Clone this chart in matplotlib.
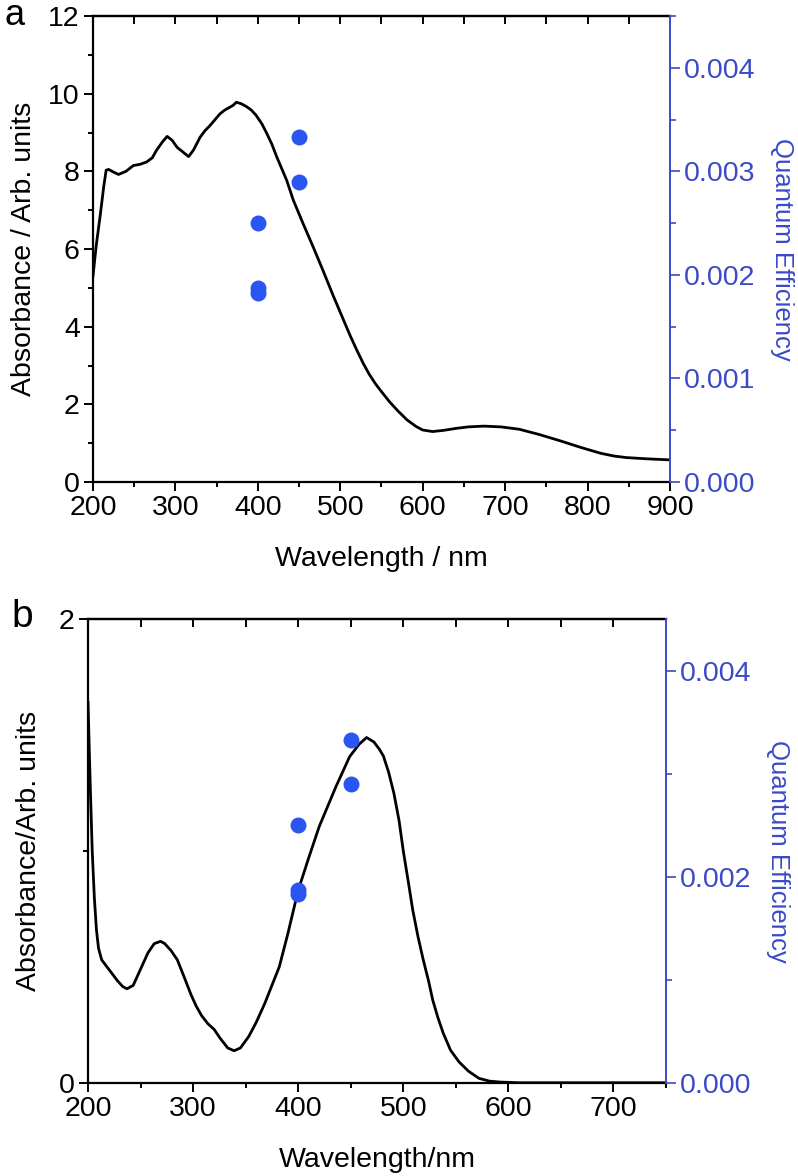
import numpy as np
import matplotlib
matplotlib.use("Agg")
import matplotlib.pyplot as plt
from matplotlib.ticker import MultipleLocator, FormatStrFormatter

plt.rcParams['font.family'] = ['Liberation Sans', 'DejaVu Sans']

# panel a: absorbance spectrum
wl_a = [200, 204, 209, 213, 216, 219, 225, 231, 240, 249, 257, 265, 272, 277, 284,
        290, 296, 302, 309, 316, 322, 330, 336, 342, 348, 354, 360, 366, 370, 374,
        380, 386, 392, 398, 405, 411, 417, 423, 429, 435, 443, 455, 467, 479, 491,
        505, 512, 520, 528, 535, 543, 551, 560, 570, 581, 592, 600, 612, 625, 640,
        655, 674, 695, 717, 742, 767, 792, 816, 832, 847, 870, 890, 900]
abs_a = [5.3, 6.1, 6.9, 7.6, 8.03, 8.05, 7.98, 7.92, 8.0, 8.15, 8.18, 8.24, 8.35, 8.54, 8.75,
         8.9, 8.8, 8.62, 8.5, 8.38, 8.55, 8.88, 9.05, 9.18, 9.33, 9.48, 9.58, 9.65, 9.7, 9.78,
         9.74, 9.67, 9.58, 9.44, 9.22, 8.97, 8.7, 8.37, 8.07, 7.77, 7.26, 6.65, 6.06, 5.45, 4.82,
         4.12, 3.77, 3.4, 3.05, 2.78, 2.52, 2.3, 2.06, 1.83, 1.6, 1.43, 1.34, 1.3, 1.33, 1.38,
         1.42, 1.44, 1.42, 1.36, 1.22, 1.06, 0.89, 0.74, 0.67, 0.63, 0.6, 0.58, 0.57]

# panel b: absorbance spectrum
wl_b = [200, 202, 204, 206, 208, 210, 213, 218, 223, 228, 233, 237, 243, 250, 257, 263,
        269, 273, 279, 285, 292, 298, 303, 308, 314, 320, 326, 333, 339, 345, 353,
        360, 368, 375, 382, 390, 400, 410, 420, 436, 449, 458, 465, 472, 477, 481,
        486, 491, 496, 500, 505, 509, 514, 519, 524, 528, 533, 538, 545, 553, 562,
        572, 582, 592, 610, 650, 700, 750]
abs_b = [1.64, 1.3, 1.0, 0.8, 0.66, 0.58, 0.53, 0.5, 0.47, 0.44, 0.415, 0.405, 0.42, 0.49, 0.56, 0.6,
         0.61, 0.6, 0.57, 0.53, 0.45, 0.38, 0.33, 0.29, 0.255, 0.23, 0.19, 0.15, 0.138, 0.15, 0.2,
         0.26, 0.34, 0.42, 0.5, 0.64, 0.83, 0.97, 1.105, 1.278, 1.407, 1.46, 1.489, 1.47, 1.44, 1.41,
         1.34, 1.25, 1.13, 1.0, 0.86, 0.745, 0.63, 0.53, 0.44, 0.357, 0.28, 0.214, 0.14, 0.09, 0.05,
         0.019, 0.007, 0.003, 0.0, 0.0, 0.0, 0.0]

# quantum efficiency points (same in both panels)
qe_wl = [400, 400, 400, 450, 450]
qe_val = [0.0025, 0.00187, 0.00183, 0.00333, 0.0029]

BLUE_AX = "#3a4ac8"
BLUE_PT = "#2a55f0"
FS_TICK = 20.5
FS_LAB = 20.5
FS_QE = 18.5


def style_panel(ax, ax2, xmin, xmax, ymax, ymajor, yminor, qemajor, qeminor):
    ax.set_xlim(xmin, xmax)
    ax.set_ylim(0, ymax)
    ax.xaxis.set_major_locator(MultipleLocator(100))
    ax.xaxis.set_minor_locator(MultipleLocator(50))
    ax.yaxis.set_major_locator(MultipleLocator(ymajor))
    ax.yaxis.set_minor_locator(MultipleLocator(yminor))
    ax.tick_params(which="major", direction="out", length=6.5, width=1.4, labelsize=FS_TICK, pad=3)
    ax.tick_params(which="minor", direction="out", length=3.5, width=1.4)
    ax.tick_params(right=False, which="both")
    for s in ["left", "bottom", "top"]:
        ax.spines[s].set_linewidth(1.6)
    ax.spines["right"].set_visible(False)

    top = ax.secondary_xaxis("top")
    top.set_xticks(np.arange(xmin + 50, xmax, 50))
    top.tick_params(direction="in", length=6, width=1.4, labeltop=False)
    top.spines["top"].set_linewidth(1.6)

    ax2.set_ylim(0, 0.0045)
    ax2.yaxis.set_major_locator(MultipleLocator(qemajor))
    ax2.yaxis.set_minor_locator(MultipleLocator(qeminor))
    ax2.yaxis.set_major_formatter(FormatStrFormatter("%.3f"))
    ax2.tick_params(which="major", direction="out", length=7, width=1.2, labelsize=FS_TICK,
                    colors=BLUE_AX, pad=3)
    ax2.tick_params(which="minor", direction="out", length=4, width=1.2, colors=BLUE_AX)
    for s in ["left", "bottom", "top"]:
        ax2.spines[s].set_visible(False)
    ax2.spines["right"].set_color(BLUE_AX)
    ax2.spines["right"].set_linewidth(1.4)


fig = plt.figure(figsize=(7.98, 11.76), dpi=100)

# panel a
ax = fig.add_axes([0.1165, 0.5901, 0.7231, 0.3963])
ax2 = ax.twinx()
ax.plot(wl_a, abs_a, color="black", lw=2)
ax2.plot(qe_wl, qe_val, "o", color=BLUE_PT, ms=11.5, mec="none")
style_panel(ax, ax2, 200, 900, 12, 2, 1, 0.001, 0.0005)
ax.set_xlabel("Wavelength / nm", fontsize=FS_LAB, labelpad=18)
ax.set_ylabel("Absorbance / Arb. units", fontsize=FS_LAB, labelpad=8)
ax2.set_ylabel("Quantum Efficiency", fontsize=FS_QE, color=BLUE_AX, rotation=270, labelpad=28)
fig.text(0.006, 0.9787, "a", fontsize=26, va="baseline", ha="left")

# panel b
bx = fig.add_axes([0.1103, 0.0793, 0.7243, 0.3943])
bx2 = bx.twinx()
bx.plot(wl_b, abs_b, color="black", lw=2)
bx2.plot(qe_wl, qe_val, "o", color=BLUE_PT, ms=11.5, mec="none")
style_panel(bx, bx2, 200, 750, 2, 2, 1, 0.002, 0.001)
bx.set_xlabel("Wavelength/nm", fontsize=FS_LAB, labelpad=18)
bx.set_ylabel("Absorbance/Arb. units", fontsize=FS_LAB, labelpad=12)
bx2.set_ylabel("Quantum Efficiency", fontsize=FS_QE, color=BLUE_AX, rotation=270, labelpad=28)
fig.text(0.014, 0.4667, "b", fontsize=28, va="baseline", ha="left")

fig.savefig("out.png", dpi=100)
